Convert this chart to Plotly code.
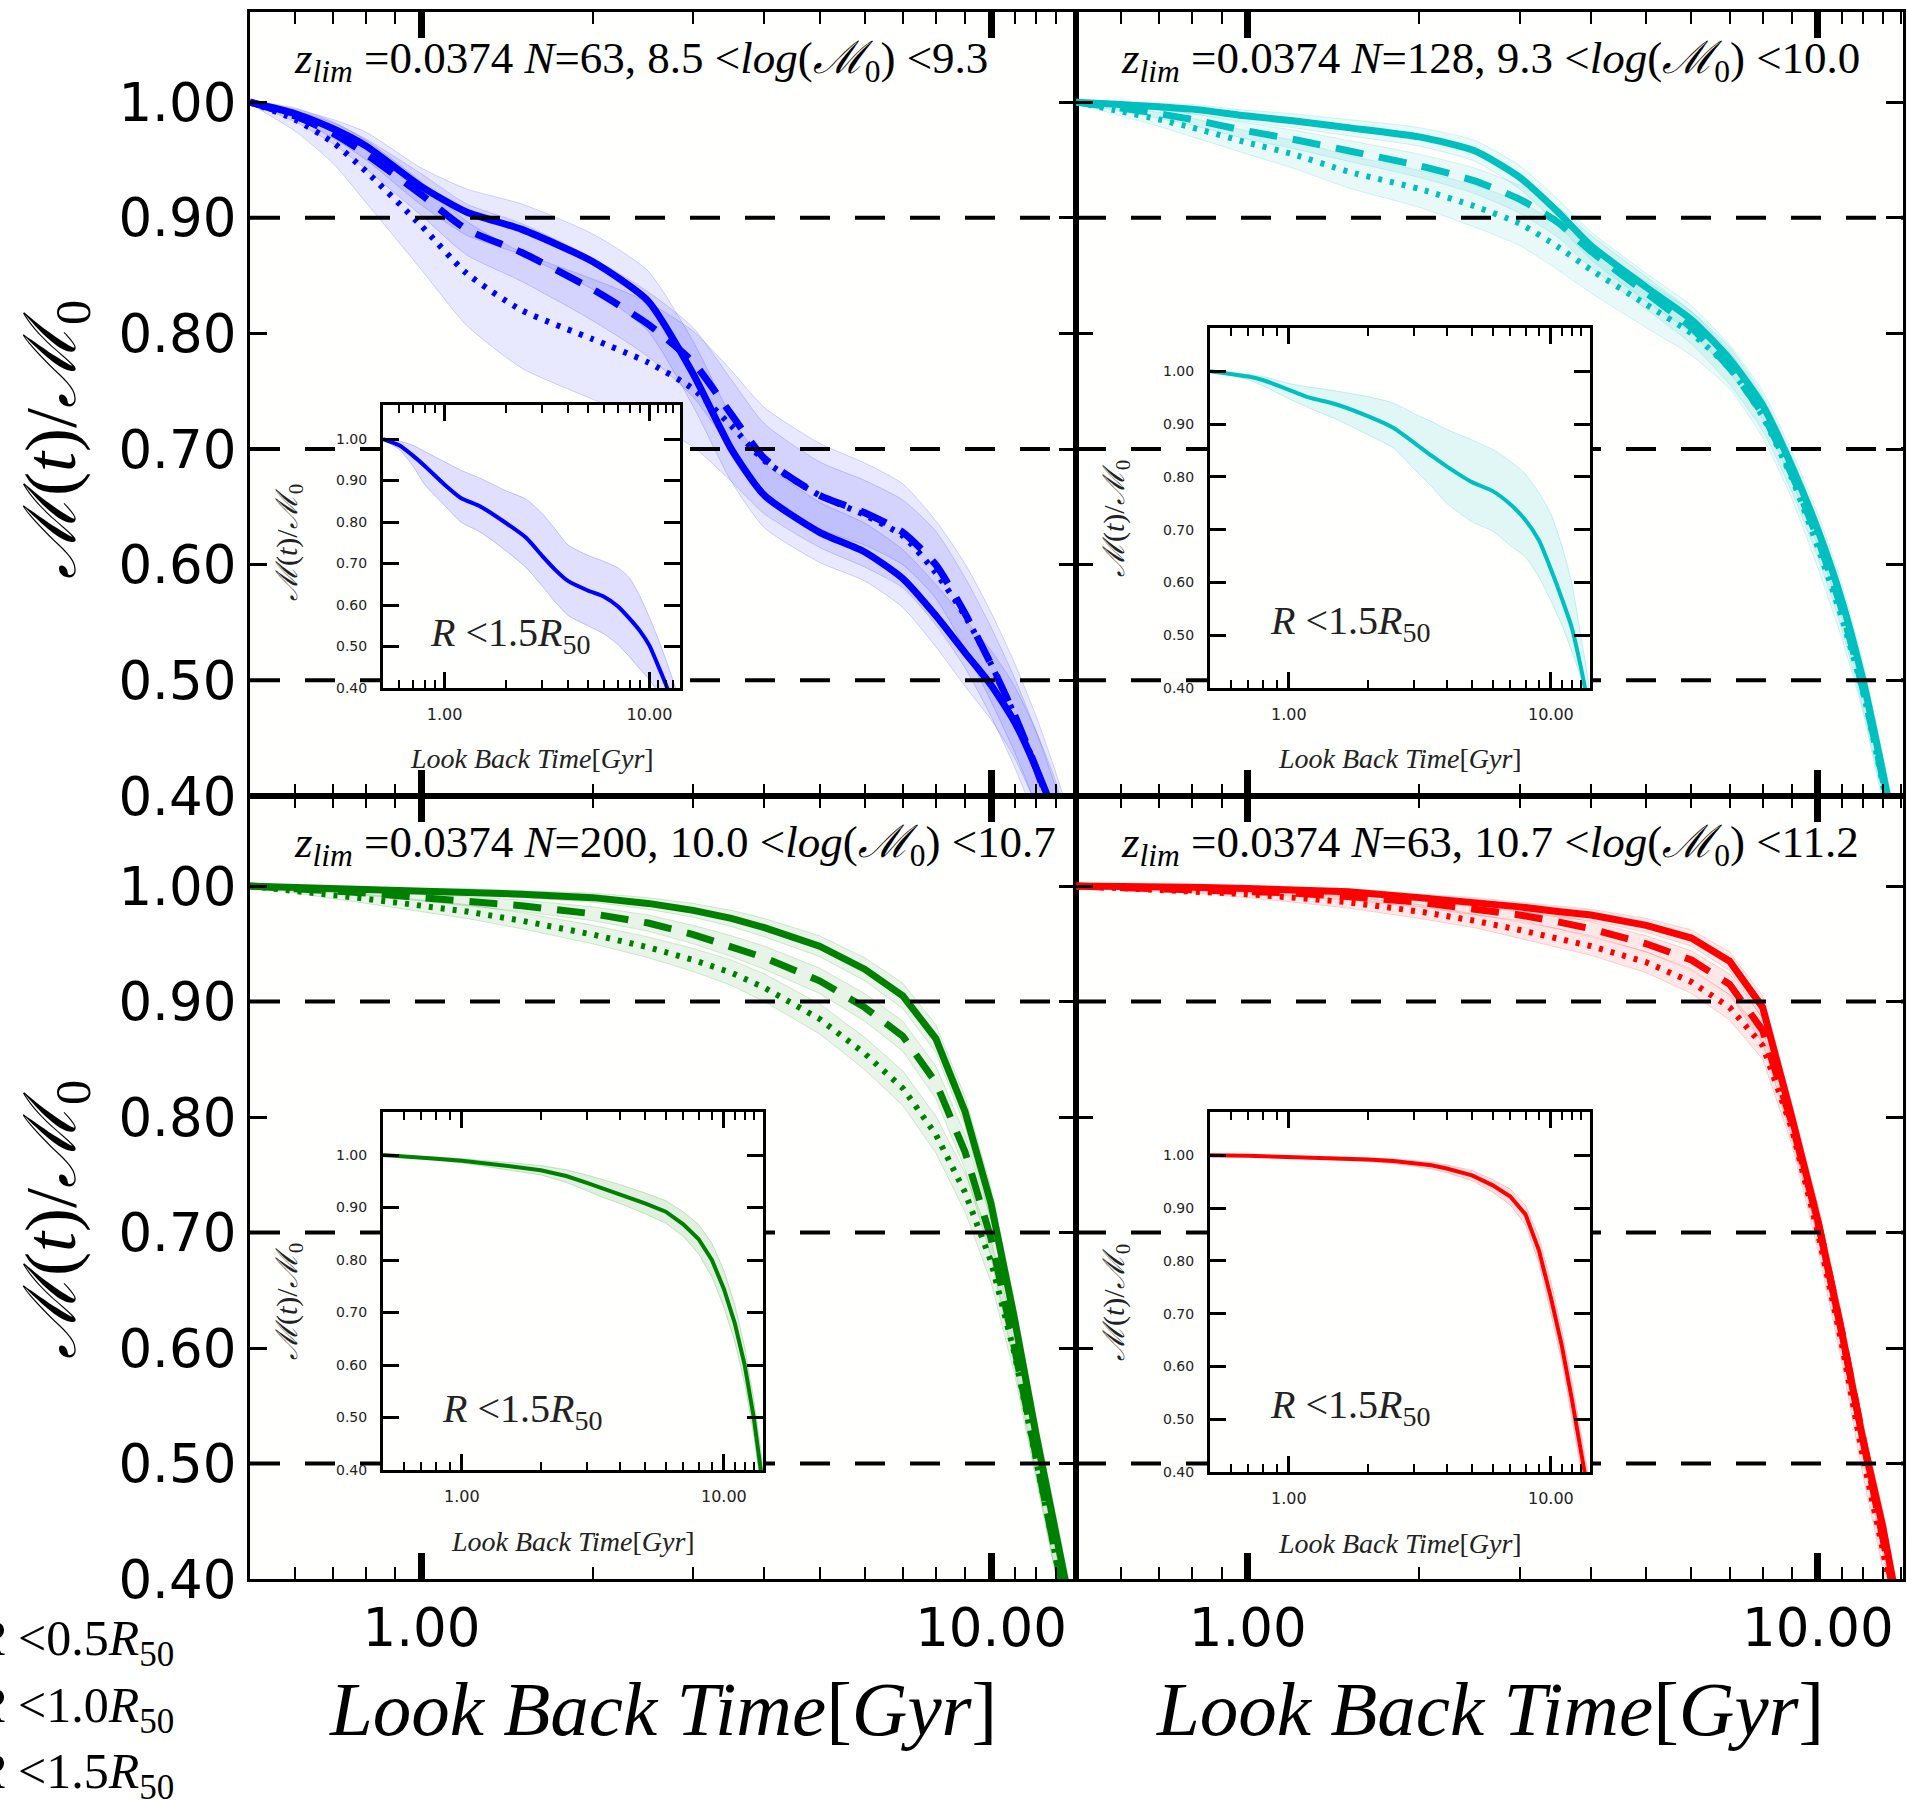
import math
import plotly.graph_objects as go

# ---------------- data ----------------
T_GYR = [0.5, 0.6, 0.7, 0.8, 1.0, 1.2, 1.5, 2.0, 2.5, 3.0, 3.5, 4.0,
         5.0, 6.0, 7.0, 8.0, 9.0, 10.0, 11.0, 12.0, 13.0, 14.0]

Z_LIM = 0.0374
N_GAL = [63, 128, 200, 63]
LOGM_LO = ["8.5", "9.3", "10.0", "10.7"]
LOGM_HI = ["9.3", "10.0", "10.7", "11.2"]
APERTURES = ["0.5", "1.0", "1.5"]
INSET_APERTURE = "1.5"
REF_LEVELS = [0.9, 0.7, 0.5]
Y_TICKS = [0.4, 0.5, 0.6, 0.7, 0.8, 0.9, 1.0]
Y_TICKTEXT = ["0.40", "0.50", "0.60", "0.70", "0.80", "0.90", "1.00"]
X_TICKS = [1.0, 10.0]
X_TICKTEXT = ["1.00", "10.00"]
X_MINOR = [0.6, 0.7, 0.8, 0.9, 2, 3, 4, 5, 6, 7, 8, 9, 11, 12, 13, 14]
X_MIN, X_MAX = 0.5, 14.1
Y_MIN, Y_MAX = 0.4, 1.078

# top-left  8.5 < log M0 < 9.3
TL_R05 = [1.000, 0.990, 0.977, 0.962, 0.927, 0.905, 0.890, 0.862, 0.828, 0.765, 0.700, 0.660,
          0.628, 0.611, 0.588, 0.556, 0.524, 0.496, 0.464, 0.424, 0.380, 0.320]
TL_R10 = [1.000, 0.988, 0.973, 0.955, 0.920, 0.890, 0.870, 0.838, 0.808, 0.775, 0.730, 0.692,
          0.660, 0.645, 0.628, 0.600, 0.558, 0.514, 0.470, 0.424, 0.375, 0.320]
TL_R15 = [1.000, 0.985, 0.965, 0.940, 0.893, 0.852, 0.820, 0.795, 0.775, 0.752, 0.720, 0.690,
          0.660, 0.643, 0.625, 0.593, 0.556, 0.514, 0.470, 0.424, 0.375, 0.320]
TL_E05 = [0.0, 0.004, 0.008, 0.012, 0.016, 0.020, 0.022, 0.024, 0.026, 0.028, 0.028, 0.028,
          0.026, 0.025, 0.025, 0.027, 0.029, 0.030, 0.031, 0.032, 0.032, 0.032]
TL_E10 = [0.0, 0.005, 0.009, 0.013, 0.018, 0.022, 0.025, 0.027, 0.028, 0.030, 0.030, 0.030,
          0.029, 0.028, 0.028, 0.029, 0.031, 0.032, 0.032, 0.032, 0.032, 0.032]
TL_E15 = [0.0, 0.010, 0.018, 0.027, 0.038, 0.045, 0.050, 0.052, 0.052, 0.050, 0.048, 0.046,
          0.045, 0.045, 0.045, 0.045, 0.045, 0.045, 0.045, 0.045, 0.045, 0.045]

# top-right  9.3 < log M0 < 10.0
TR_R05 = [1.000, 0.998, 0.996, 0.994, 0.988, 0.984, 0.978, 0.970, 0.958, 0.935, 0.905, 0.876,
          0.840, 0.812, 0.778, 0.738, 0.685, 0.630, 0.570, 0.500, 0.420, 0.340]
TR_R10 = [1.000, 0.995, 0.990, 0.985, 0.975, 0.968, 0.958, 0.945, 0.932, 0.916, 0.896, 0.871,
          0.835, 0.805, 0.770, 0.730, 0.678, 0.622, 0.562, 0.492, 0.415, 0.335]
TR_R15 = [1.000, 0.992, 0.985, 0.978, 0.965, 0.955, 0.940, 0.925, 0.910, 0.895, 0.875, 0.855,
          0.825, 0.800, 0.770, 0.728, 0.675, 0.615, 0.555, 0.490, 0.410, 0.330]
TR_E05 = [0.0, 0.002, 0.003, 0.004, 0.005, 0.006, 0.007, 0.008, 0.009, 0.010, 0.011, 0.012,
          0.012, 0.012, 0.012, 0.012, 0.013, 0.014, 0.015, 0.015, 0.015, 0.015]
TR_E10 = [0.0, 0.003, 0.004, 0.005, 0.007, 0.008, 0.009, 0.010, 0.011, 0.012, 0.013, 0.014,
          0.014, 0.014, 0.014, 0.014, 0.015, 0.016, 0.017, 0.017, 0.017, 0.017]
TR_E15 = [0.0, 0.004, 0.006, 0.008, 0.010, 0.012, 0.014, 0.016, 0.018, 0.019, 0.020, 0.020,
          0.020, 0.019, 0.018, 0.018, 0.018, 0.018, 0.018, 0.018, 0.018, 0.018]

# bottom-left  10.0 < log M0 < 10.7
BL_R05 = [1.000, 0.999, 0.998, 0.997, 0.996, 0.995, 0.993, 0.990, 0.985, 0.979, 0.972, 0.964,
          0.948, 0.928, 0.905, 0.868, 0.805, 0.725, 0.625, 0.525, 0.440, 0.360]
BL_R10 = [1.000, 0.998, 0.996, 0.994, 0.990, 0.987, 0.983, 0.976, 0.968, 0.958, 0.948, 0.938,
          0.918, 0.895, 0.870, 0.830, 0.770, 0.695, 0.600, 0.505, 0.420, 0.340]
BL_R15 = [1.000, 0.996, 0.992, 0.989, 0.983, 0.978, 0.970, 0.958, 0.947, 0.936, 0.925, 0.912,
          0.885, 0.855, 0.825, 0.785, 0.735, 0.675, 0.595, 0.505, 0.420, 0.340]
BL_E05 = [0.0, 0.001, 0.001, 0.002, 0.002, 0.003, 0.003, 0.004, 0.005, 0.006, 0.007, 0.008,
          0.009, 0.010, 0.011, 0.012, 0.013, 0.014, 0.015, 0.015, 0.015, 0.015]
BL_E10 = [0.0, 0.001, 0.002, 0.002, 0.003, 0.004, 0.005, 0.006, 0.007, 0.008, 0.009, 0.010,
          0.011, 0.012, 0.013, 0.014, 0.015, 0.016, 0.016, 0.016, 0.016, 0.016]
BL_E15 = [0.0, 0.002, 0.003, 0.004, 0.005, 0.006, 0.007, 0.008, 0.009, 0.010, 0.011, 0.012,
          0.013, 0.014, 0.015, 0.016, 0.017, 0.018, 0.018, 0.018, 0.018, 0.018]

# bottom-right  10.7 < log M0 < 11.2
BR_R05 = [1.000, 1.000, 0.999, 0.999, 0.998, 0.997, 0.995, 0.990, 0.986, 0.982, 0.978, 0.975,
          0.966, 0.955, 0.935, 0.895, 0.800, 0.710, 0.615, 0.520, 0.445, 0.360]
BR_R10 = [1.000, 0.999, 0.998, 0.997, 0.996, 0.994, 0.991, 0.986, 0.980, 0.975, 0.969, 0.963,
          0.950, 0.936, 0.915, 0.875, 0.795, 0.710, 0.615, 0.520, 0.440, 0.355]
BR_R15 = [1.000, 0.998, 0.997, 0.996, 0.993, 0.990, 0.986, 0.978, 0.970, 0.962, 0.955, 0.948,
          0.934, 0.917, 0.895, 0.862, 0.790, 0.700, 0.605, 0.505, 0.425, 0.340]
BR_E05 = [0.0, 0.001, 0.001, 0.001, 0.002, 0.002, 0.003, 0.003, 0.004, 0.004, 0.005, 0.005,
          0.006, 0.007, 0.008, 0.010, 0.012, 0.013, 0.014, 0.014, 0.014, 0.014]
BR_E10 = [0.0, 0.001, 0.001, 0.002, 0.002, 0.003, 0.003, 0.004, 0.005, 0.005, 0.006, 0.006,
          0.007, 0.008, 0.009, 0.011, 0.013, 0.014, 0.015, 0.015, 0.015, 0.015]
BR_E15 = [0.0, 0.001, 0.002, 0.002, 0.003, 0.004, 0.005, 0.006, 0.006, 0.007, 0.008, 0.008,
          0.009, 0.010, 0.011, 0.012, 0.014, 0.015, 0.016, 0.016, 0.016, 0.016]

# insets (R < 1.5 R50): median and band edges
TL_IN = [1.000, 0.985, 0.960, 0.935, 0.890, 0.858, 0.837, 0.797, 0.762, 0.718, 0.683, 0.658,
         0.635, 0.620, 0.597, 0.567, 0.537, 0.502, 0.455, 0.410, 0.360, 0.300]
TL_IN_HI = [1.000, 0.995, 0.985, 0.970, 0.945, 0.925, 0.905, 0.875, 0.855, 0.820, 0.780, 0.745,
            0.720, 0.705, 0.690, 0.665, 0.620, 0.570, 0.520, 0.470, 0.420, 0.370]
TL_IN_LO = [1.000, 0.975, 0.935, 0.890, 0.840, 0.800, 0.775, 0.730, 0.690, 0.645, 0.605, 0.575,
            0.550, 0.530, 0.505, 0.475, 0.445, 0.420, 0.390, 0.360, 0.330, 0.300]
TR_IN = [1.000, 0.995, 0.990, 0.983, 0.965, 0.950, 0.938, 0.915, 0.893, 0.865, 0.840, 0.820,
         0.790, 0.773, 0.748, 0.718, 0.680, 0.625, 0.570, 0.515, 0.440, 0.360]
TR_IN_HI = [1.000, 0.998, 0.994, 0.990, 0.977, 0.970, 0.963, 0.952, 0.940, 0.920, 0.905, 0.890,
            0.870, 0.852, 0.830, 0.805, 0.770, 0.730, 0.670, 0.600, 0.500, 0.400]
TR_IN_LO = [1.000, 0.992, 0.984, 0.972, 0.948, 0.930, 0.910, 0.880, 0.855, 0.815, 0.782, 0.750,
            0.715, 0.697, 0.670, 0.648, 0.610, 0.565, 0.520, 0.470, 0.420, 0.350]
BL_IN = [1.000, 0.998, 0.995, 0.993, 0.989, 0.985, 0.979, 0.971, 0.960, 0.947, 0.935, 0.926,
         0.908, 0.892, 0.868, 0.840, 0.800, 0.745, 0.680, 0.600, 0.500, 0.380]
BL_IN_HI = [1.000, 0.999, 0.997, 0.996, 0.993, 0.990, 0.986, 0.980, 0.972, 0.962, 0.952, 0.944,
            0.928, 0.913, 0.892, 0.868, 0.832, 0.780, 0.715, 0.635, 0.535, 0.420]
BL_IN_LO = [1.000, 0.997, 0.993, 0.990, 0.985, 0.980, 0.972, 0.962, 0.948, 0.932, 0.918, 0.908,
            0.888, 0.870, 0.845, 0.812, 0.768, 0.710, 0.645, 0.565, 0.465, 0.350]
BR_IN = [1.000, 1.000, 0.999, 0.998, 0.997, 0.996, 0.995, 0.992, 0.989, 0.985, 0.981, 0.975,
         0.962, 0.943, 0.922, 0.888, 0.820, 0.730, 0.640, 0.540, 0.440, 0.350]
BR_IN_HI = [1.000, 1.000, 1.000, 0.999, 0.999, 0.998, 0.997, 0.995, 0.993, 0.990, 0.987, 0.982,
            0.971, 0.954, 0.936, 0.905, 0.845, 0.760, 0.670, 0.575, 0.475, 0.385]
BR_IN_LO = [1.000, 0.999, 0.998, 0.997, 0.995, 0.994, 0.992, 0.988, 0.984, 0.979, 0.974, 0.967,
            0.952, 0.930, 0.906, 0.868, 0.795, 0.700, 0.610, 0.505, 0.405, 0.315]

COLORS = ["#0000ff", "#00bfbf", "#008000", "#ff0000"]
SMOOTH = [True, True, False, False]

# ---------------- geometry (pixels of a 1907 x 1800 page) ----------------
W, H = 1907, 1800


def fx(p):
    return p / W


def fy(p):
    return 1 - p / H


MAIN_X = [(250, 1076), (1076, 1903), (250, 1076), (1076, 1903)]
MAIN_Y = [(12, 796), (12, 796), (796, 1579), (796, 1579)]
INS_X = [(383, 680), (1210, 1590), (383, 763), (1210, 1590)]
INS_Y = [(405, 688), (328, 688), (1112, 1470), (1112, 1472)]
INS_YLAB = [543, 519, 1302, 1303]

LINE_STYLES = [dict(width=7, dash="solid"),
               dict(width=7, dash="28px,16px"),
               dict(width=6, dash="4px,8px")]


def rgba(hexc, a):
    h = hexc.lstrip("#")
    return "rgba(%d,%d,%d,%s)" % (int(h[0:2], 16), int(h[2:4], 16), int(h[4:6], 16), a)


PANEL_LINES = [(TL_R05, TL_R10, TL_R15), (TR_R05, TR_R10, TR_R15),
               (BL_R05, BL_R10, BL_R15), (BR_R05, BR_R10, BR_R15)]
PANEL_ERRS = [(TL_E05, TL_E10, TL_E15), (TR_E05, TR_E10, TR_E15),
              (BL_E05, BL_E10, BL_E15), (BR_E05, BR_E10, BR_E15)]
INSETS = [(TL_IN, TL_IN_HI, TL_IN_LO), (TR_IN, TR_IN_HI, TR_IN_LO),
          (BL_IN, BL_IN_HI, BL_IN_LO), (BR_IN, BR_IN_HI, BR_IN_LO)]

fig = go.Figure()

for i in range(4):
    ax = "" if i == 0 else str(i + 1)
    xa, ya = "x" + ax, "y" + ax
    col = COLORS[i]
    shape = "spline" if SMOOTH[i] else "linear"
    for vals, err in zip(PANEL_LINES[i], PANEL_ERRS[i]):
        hi = [v + e for v, e in zip(vals, err)]
        lo = [v - e for v, e in zip(vals, err)]
        fig.add_trace(go.Scatter(x=T_GYR + T_GYR[::-1], y=hi + lo[::-1], fill="toself",
                                 fillcolor=rgba(col, 0.09),
                                 line=dict(width=1, color=rgba(col, 0.16), shape=shape, smoothing=0.6),
                                 mode="lines", xaxis=xa, yaxis=ya, hoverinfo="skip", showlegend=False))
    for vals, st in zip(PANEL_LINES[i], LINE_STYLES):
        fig.add_trace(go.Scatter(x=T_GYR, y=vals, mode="lines",
                                 line=dict(color=col, width=st["width"], dash=st["dash"],
                                           shape=shape, smoothing=0.6),
                                 xaxis=xa, yaxis=ya, showlegend=False))
    for lvl in REF_LEVELS:
        fig.add_trace(go.Scatter(x=[X_MIN, X_MAX], y=[lvl, lvl], mode="lines",
                                 line=dict(color="black", width=4, dash="30px,25px"),
                                 xaxis=xa, yaxis=ya, showlegend=False, hoverinfo="skip"))

for i in range(4):
    ax = str(i + 5)
    xa, ya = "x" + ax, "y" + ax
    col = COLORS[i]
    shape = "spline" if SMOOTH[i] else "linear"
    med, hi, lo = INSETS[i]
    fig.add_trace(go.Scatter(x=T_GYR + T_GYR[::-1], y=hi + lo[::-1], fill="toself",
                             fillcolor=rgba(col, 0.12),
                             line=dict(width=1, color=rgba(col, 0.2), shape=shape, smoothing=0.6),
                             mode="lines", xaxis=xa, yaxis=ya, hoverinfo="skip", showlegend=False))
    fig.add_trace(go.Scatter(x=T_GYR, y=med, mode="lines",
                             line=dict(color=col, width=4, shape=shape, smoothing=0.6),
                             xaxis=xa, yaxis=ya, showlegend=False))

layout = dict(width=W, height=H, autosize=False, margin=dict(l=0, r=0, t=0, b=0, pad=0),
              paper_bgcolor="#ffffff", plot_bgcolor="#fffffe", showlegend=False)

XR = [math.log10(X_MIN), math.log10(X_MAX)]
for i in range(4):
    ax = "" if i == 0 else str(i + 1)
    layout["xaxis" + ax] = dict(
        domain=[fx(MAIN_X[i][0]), fx(MAIN_X[i][1])], anchor="y" + ax, type="log", range=XR,
        showline=True, linecolor="black", linewidth=3, mirror="allticks",
        ticks="inside", ticklen=26, tickwidth=7, tickcolor="black",
        tickmode="array", tickvals=X_TICKS, ticktext=X_TICKTEXT,
        showticklabels=(i >= 2), ticklabelstandoff=0, automargin=False,
        tickfont=dict(family="DejaVu Sans", size=53, color="black"),
        minor=dict(tickmode="array", tickvals=X_MINOR, ticks="inside", ticklen=12, tickwidth=2,
                   tickcolor="black", showgrid=False),
        showgrid=False, zeroline=False, fixedrange=True)
    layout["yaxis" + ax] = dict(
        domain=[fy(MAIN_Y[i][1]), fy(MAIN_Y[i][0])], anchor="x" + ax, range=[Y_MIN, Y_MAX],
        showline=True, linecolor="black", linewidth=3, mirror="allticks",
        ticks="inside", ticklen=17, tickwidth=2.5, tickcolor="black",
        tickmode="array", tickvals=Y_TICKS, ticktext=Y_TICKTEXT,
        showticklabels=(i % 2 == 0), ticklabelstandoff=0, automargin=False,
        tickfont=dict(family="DejaVu Sans", size=53, color="black"),
        showgrid=False, zeroline=False, fixedrange=True)

for i in range(4):
    ax = str(i + 5)
    layout["xaxis" + ax] = dict(
        domain=[fx(INS_X[i][0]), fx(INS_X[i][1])], anchor="y" + ax, type="log", range=XR,
        showline=True, linecolor="black", linewidth=3, mirror="allticks",
        ticks="inside", ticklen=16, tickwidth=2.5, tickcolor="black",
        tickmode="array", tickvals=X_TICKS, ticktext=X_TICKTEXT, ticklabelstandoff=10,
        automargin=False,
        tickfont=dict(family="DejaVu Sans", size=16, color="#222222"),
        minor=dict(tickmode="array", tickvals=X_MINOR, ticks="inside", ticklen=8, tickwidth=2,
                   tickcolor="black", showgrid=False),
        showgrid=False, zeroline=False, fixedrange=True)
    layout["yaxis" + ax] = dict(
        domain=[fy(INS_Y[i][1]), fy(INS_Y[i][0])], anchor="x" + ax, range=[0.4, 1.082],
        showline=True, linecolor="black", linewidth=3, mirror="allticks",
        ticks="inside", ticklen=16, tickwidth=2.5, tickcolor="black",
        tickmode="array", tickvals=Y_TICKS, ticktext=Y_TICKTEXT, ticklabelstandoff=10,
        automargin=False,
        tickfont=dict(family="DejaVu Sans", size=14, color="#222222"),
        showgrid=False, zeroline=False, fixedrange=True)

SERIF = "Liberation Serif, DejaVu Serif, serif"
MLAB = "<i>ℳ</i>(<i>t</i>)/<i>ℳ</i><sub>0</sub>"
XLAB = "<i>Look Back Time</i>[<i>Gyr</i>]"
ann = []
TITLE_POS = [(292, 61), (1119, 61), (292, 845), (1119, 845)]
for i in range(4):
    txt = ("<i>z</i><sub><i>lim</i></sub> =%s <i>N</i>=%d, %s &lt;<i>log</i>(<i>ℳ</i><sub>0</sub>) &lt;%s"
           % (Z_LIM, N_GAL[i], LOGM_LO[i], LOGM_HI[i]))
    ann.append(dict(x=fx(TITLE_POS[i][0]), y=fy(TITLE_POS[i][1]), xref="paper", yref="paper",
                    text=txt, showarrow=False, xanchor="left", yanchor="middle",
                    font=dict(family=SERIF, size=45, color="black")))
INS_TXT = [(428, 635), (1268, 623), (440, 1411), (1268, 1407)]
for i in range(4):
    ann.append(dict(x=fx(INS_TXT[i][0]), y=fy(INS_TXT[i][1]), xref="paper", yref="paper",
                    text="<i>R</i> &lt;%s<i>R</i><sub>50</sub>" % INSET_APERTURE, showarrow=False,
                    xanchor="left", yanchor="middle", font=dict(family=SERIF, size=40, color="#222222")))
    cx = (INS_X[i][0] + INS_X[i][1]) / 2
    ann.append(dict(x=fx(cx), y=fy(INS_Y[i][1] + 71), xref="paper", yref="paper", text=XLAB,
                    showarrow=False, xanchor="center", yanchor="middle",
                    font=dict(family=SERIF, size=28, color="#222222")))
    ann.append(dict(x=fx(INS_X[i][0] - 94), y=fy(INS_YLAB[i]), xref="paper", yref="paper", text=MLAB,
                    showarrow=False, textangle=-90, xanchor="center", yanchor="middle",
                    font=dict(family=SERIF, size=30, color="#222222")))
# main axis titles
for cy in (440, 1220):
    ann.append(dict(x=fx(56), y=fy(cy), xref="paper", yref="paper", text=MLAB, showarrow=False,
                    textangle=-90, xanchor="center", yanchor="middle",
                    font=dict(family=SERIF, size=72, color="black")))
for cx in (663, 1490):
    ann.append(dict(x=fx(cx), y=fy(1709), xref="paper", yref="paper", text=XLAB, showarrow=False,
                    xanchor="center", yanchor="middle", font=dict(family=SERIF, size=77, color="black")))
# legend texts (cut at the page edge as in the original)
for ap, cy in zip(APERTURES, (1642, 1709, 1775)):
    ann.append(dict(x=fx(176), y=fy(cy), xref="paper", yref="paper",
                    text="<i>R</i> &lt;%s<i>R</i><sub>50</sub>" % ap, showarrow=False,
                    xanchor="right", yanchor="middle", font=dict(family=SERIF, size=50, color="black")))
layout["annotations"] = ann

fig.update_layout(**layout)
fig.write_html("out.html")
